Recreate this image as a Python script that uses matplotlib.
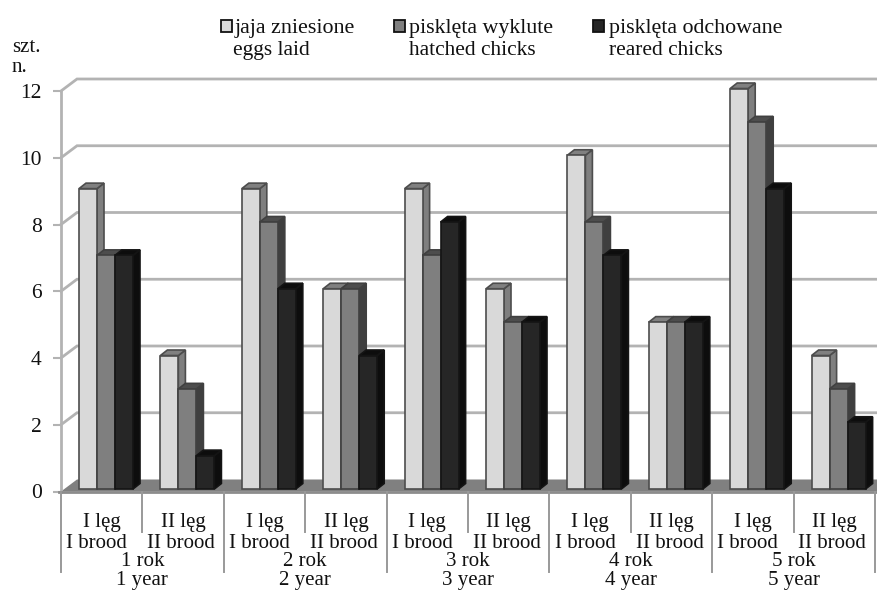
import matplotlib
matplotlib.use('Agg')
import matplotlib.pyplot as plt
from matplotlib.patches import Polygon, Rectangle
from matplotlib.transforms import Affine2D

plt.rcParams['font.family'] = ['Liberation Serif', 'DejaVu Serif']

W, H = 877, 590

years_pl = ['1 rok', '2 rok', '3 rok', '4 rok', '5 rok']
years_en = ['1 year', '2 year', '3 year', '4 year', '5 year']
brood_pl = ['I lęg', 'II lęg']
brood_en = ['I brood', 'II brood']
yticks = [0, 2, 4, 6, 8, 10, 12]

eggs = [9, 4, 9, 6, 9, 6, 10, 5, 12, 4]
hatched = [7, 3, 8, 6, 7, 5, 8, 5, 11, 3]
reared = [7, 1, 6, 4, 8, 5, 7, 5, 9, 2]

series_pl = ['jaja zniesione', 'pisklęta wyklute', 'pisklęta odchowane']
series_en = ['eggs laid', 'hatched chicks', 'reared chicks']

# front, side, top, edge
colors = [('#d9d9d9', '#7f7f7f', '#808080', '#4d4d4d'),
          ('#7f7f7f', '#3f3f3f', '#4d4d4d', '#404040'),
          ('#262626', '#0d0d0d', '#0d0d0d', '#141414')]

fig = plt.figure(figsize=(W / 100, H / 100), dpi=100)

# plot area in pixels
x0, x1 = 61, 875
y0, y12 = 491.5, 91
ax = fig.add_axes([x0 / W, 1 - y0 / H, (x1 - x0) / W, (y0 - y12) / H])
ax.set_xlim(0, 10)
ax.set_ylim(0, 12)
ax.patch.set_visible(False)
for s in ax.spines.values():
    s.set_visible(False)

cat_w = (x1 - x0) / 10
val_h = (y0 - y12) / 12
grid_c = '#b3b3b3'

# pixels -> data
def dx(px):
    return px / cat_w

def dy(px):
    return px / val_h

depth_x, depth_y = dx(16), dy(12)

# back wall and floor
for v in yticks[1:]:
    ax.plot([0, depth_x, 10.03], [v, v + depth_y, v + depth_y], color=grid_c, lw=2,
            clip_on=False, zorder=1, solid_joinstyle='miter')
ax.add_patch(Polygon([(0, 0), (depth_x, depth_y), (10.03, depth_y), (10.03, 0)],
                     closed=True, fc='#808080', ec='none', zorder=1.5, clip_on=False))
ax.plot([0, 0], [0, 12], color=grid_c, lw=2, zorder=2, clip_on=False)
ax.plot([-0.03, 10.03], [0, 0], color='#8c8c8c', lw=2, zorder=2, clip_on=False)

# bars
bar_w = dx(18)
off = dx(18)
base = dy(2.5)
ddx, ddy = dx(7), dy(5.5)
z = 3
for i in range(10):
    for j, vals in enumerate([eggs, hatched, reared]):
        front, side, top_c, edge = colors[j]
        xl = i + off + j * bar_w
        xr = xl + bar_w
        top = vals[i] + base
        ax.add_patch(Polygon([(xr, base), (xr + ddx, base + ddy), (xr + ddx, top + ddy), (xr, top)],
                             closed=True, fc=side, ec=edge, lw=1.2, zorder=z, clip_on=False))
        ax.add_patch(Polygon([(xl, top), (xl + ddx, top + ddy), (xr + ddx, top + ddy), (xr, top)],
                             closed=True, fc=top_c, ec=edge, lw=1.2, zorder=z, clip_on=False))
        ax.bar(xl, vals[i], width=bar_w, bottom=base, align='edge', color=front,
               edgecolor=edge, linewidth=1.2, zorder=z + 0.1, clip_on=False)
        z += 0.2

# y axis
ax.set_yticks(yticks)
ax.set_yticklabels([str(v) for v in yticks], fontsize=15.5, color='#111111')
ax.tick_params(axis='y', length=6, width=1.5, color=grid_c, pad=8)
ax.set_xticks([])

# pixel coordinates for the labels
px = Affine2D().scale(1 / W, -1 / H).translate(0, 1) + fig.transFigure

# category dividers
for k in range(11):
    xp = x0 + k * cat_w
    bottom = 572 if k % 2 == 0 else 532
    fig.add_artist(plt.Line2D([xp, xp], [y0, bottom], transform=px, color='#999999', lw=1.4))

for i in range(10):
    xc = x0 + (i + 0.5) * cat_w
    shift = -5 if i % 2 == 0 else -2
    fig.text(xc, 522, brood_pl[i % 2], transform=px, ha='center', va='center', fontsize=15, color='#111111')
    fig.text(xc + shift, 543, brood_en[i % 2], transform=px, ha='center', va='center', fontsize=15, color='#111111')
for i in range(5):
    xc = x0 + (2 * i + 1) * cat_w
    fig.text(xc, 561, years_pl[i], transform=px, ha='center', va='center', fontsize=15, color='#111111')
    fig.text(xc, 581, years_en[i], transform=px, ha='center', va='center', fontsize=15, color='#111111')

fig.text(12, 48, 'szt.', transform=px, ha='left', va='center', fontsize=15, color='#111111')
fig.text(12, 67, 'n.', transform=px, ha='left', va='center', fontsize=15, color='#111111')

# legend
leg_sq = [221, 394, 593]
leg_tx = [235, 409, 609]
leg_tx2 = [233, 409, 609]
for j in range(3):
    fig.add_artist(Rectangle((leg_sq[j], 20), 11, 11.5, transform=px, fc=colors[j][0], ec='#111111', lw=1.3))
    fig.text(leg_tx[j], 29, series_pl[j], transform=px, ha='left', va='center', fontsize=15.8, color='#111111')
    fig.text(leg_tx2[j], 50.5, series_en[j], transform=px, ha='left', va='center', fontsize=15.4, color='#111111')

fig.savefig('out.png', dpi=100)
